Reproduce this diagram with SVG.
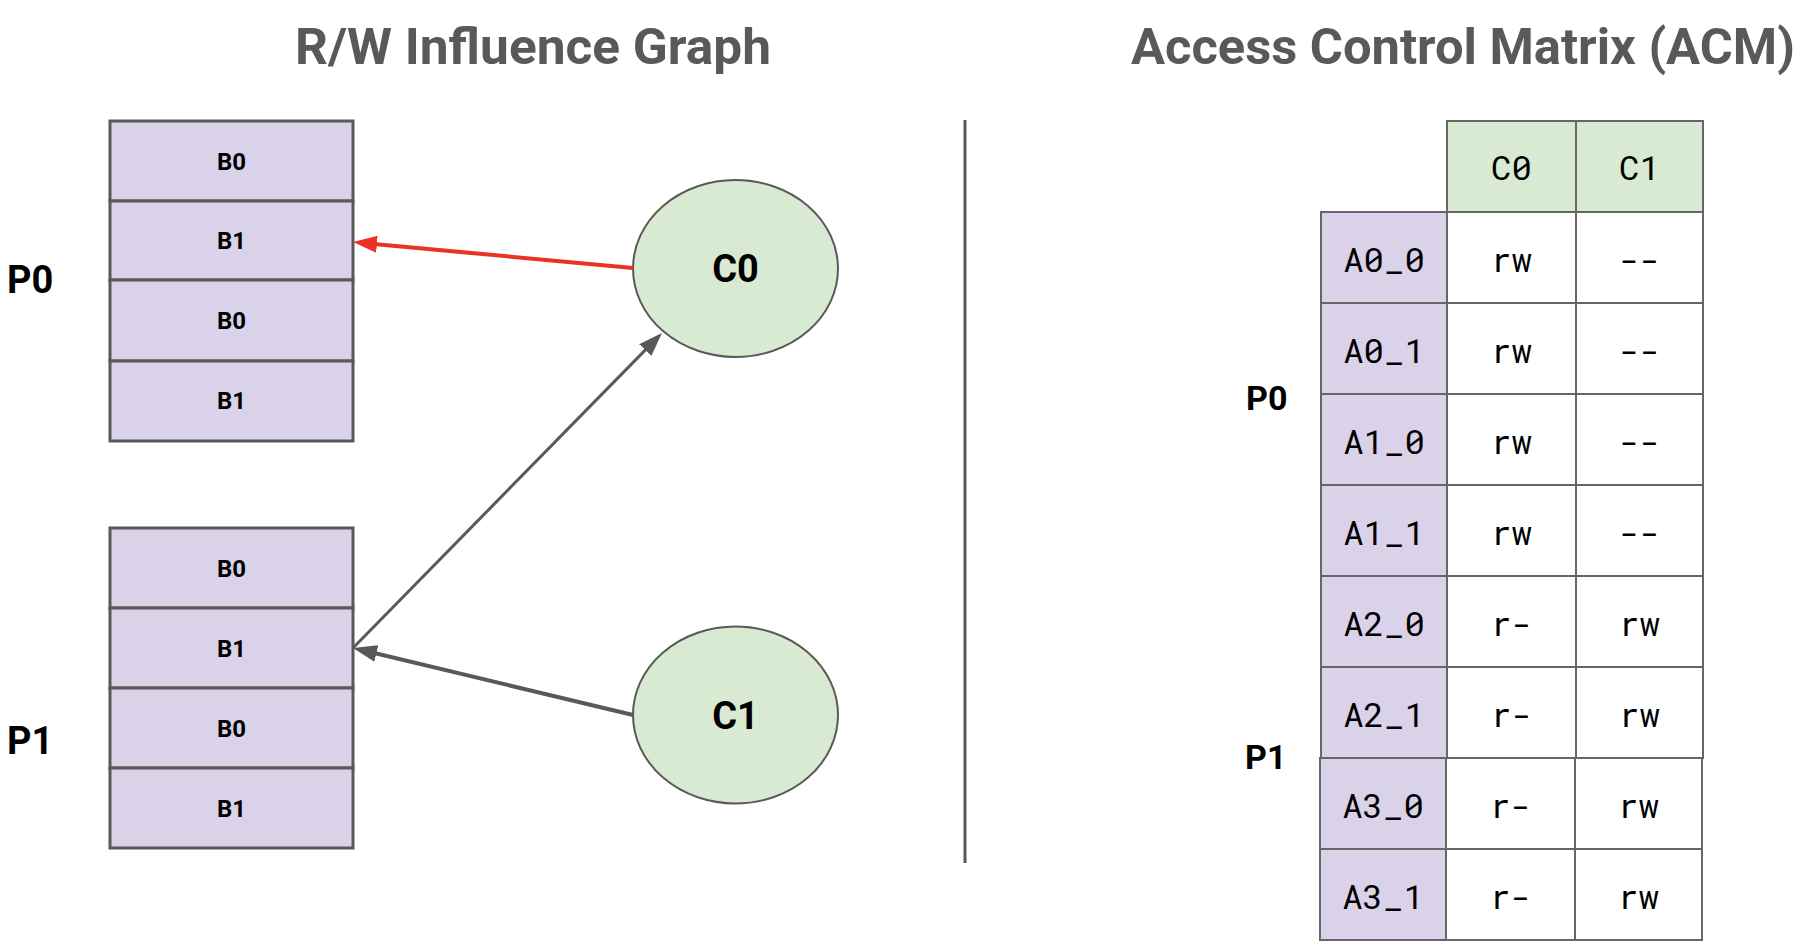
<svg xmlns="http://www.w3.org/2000/svg" width="1814" height="952" viewBox="0 0 1814 952">
<style>
.title{font-family:Roboto,"Liberation Sans",sans-serif;font-weight:bold;font-size:50px;fill:#595959;text-anchor:middle}
.lbl{font-family:Roboto,"Liberation Sans",sans-serif;font-weight:bold;fill:#000}
.blk{fill:#d9d2e9;stroke:#595959;stroke-width:3}
.btxt{font-family:Roboto,"Liberation Sans",sans-serif;font-weight:bold;font-size:24px;fill:#000;text-anchor:middle}
.cir{fill:#d9ead3;stroke:#595959;stroke-width:2}
.ctxt{font-family:Roboto,"Liberation Sans",sans-serif;font-weight:bold;font-size:38px;fill:#000;text-anchor:middle}
.cell{stroke:#666;stroke-width:2}
.hdr{fill:#d9ead3}
.acc{fill:#d9d2e9}
.wht{fill:#fff}
.mono{font-family:"Roboto Mono","DejaVu Sans Mono","Liberation Mono",monospace;font-size:34px;fill:#000;text-anchor:middle}
.grey{stroke:#595959;fill:none}
</style>
<defs>
<marker id="ahG" markerUnits="userSpaceOnUse" markerWidth="24" markerHeight="17" refX="14" refY="8.5" orient="auto">
<path d="M0,0 L24,8.5 L0,17 z" fill="#595959"/>
</marker>
<marker id="ahR" markerUnits="userSpaceOnUse" markerWidth="24" markerHeight="17" refX="14" refY="8.5" orient="auto">
<path d="M0,0 L24,8.5 L0,17 z" fill="#ea3323"/>
</marker>
</defs>
<rect width="1814" height="952" fill="#fff"/>

<text class="title" x="533" y="64" textLength="476" lengthAdjust="spacingAndGlyphs">R/W Influence Graph</text>
<text class="title" x="1463" y="64" textLength="664" lengthAdjust="spacingAndGlyphs">Access Control Matrix (ACM)</text>

<g id="divider"><line x1="965" y1="120" x2="965" y2="863" stroke="#595959" stroke-width="3"/></g>

<g id="P0-label"><text class="lbl" x="7" y="293" font-size="38">P0</text></g>
<g id="P1-label"><text class="lbl" x="7" y="754" font-size="38">P1</text></g>

<g id="P0-stack">
<rect class="blk" x="110" y="121" width="243" height="80"/><text class="btxt" x="231.5" y="169.5">B0</text>
<rect class="blk" x="110" y="201" width="243" height="79"/><text class="btxt" x="231.5" y="249">B1</text>
<rect class="blk" x="110" y="280" width="243" height="81"/><text class="btxt" x="231.5" y="329">B0</text>
<rect class="blk" x="110" y="361" width="243" height="80"/><text class="btxt" x="231.5" y="409">B1</text>
</g>
<g id="P1-stack">
<rect class="blk" x="110" y="528" width="243" height="80"/><text class="btxt" x="231.5" y="576.5">B0</text>
<rect class="blk" x="110" y="608" width="243" height="80"/><text class="btxt" x="231.5" y="656.5">B1</text>
<rect class="blk" x="110" y="688" width="243" height="80"/><text class="btxt" x="231.5" y="736.5">B0</text>
<rect class="blk" x="110" y="768" width="243" height="80"/><text class="btxt" x="231.5" y="816.5">B1</text>
</g>

<g id="C0">
<ellipse class="cir" cx="735.5" cy="268.5" rx="102.5" ry="88.5"/>
<text class="ctxt" x="735.5" y="282">C0</text>
</g>
<g id="C1">
<ellipse class="cir" cx="735.5" cy="715" rx="102.5" ry="88.5"/>
<text class="ctxt" x="735.5" y="728.5">C1</text>
</g>

<g id="connectors">
<line x1="633" y1="268" x2="363" y2="243" stroke="#ea3323" stroke-width="4" marker-end="url(#ahR)"/>
<line x1="633" y1="715" x2="362.7" y2="650.3" class="grey" stroke-width="4" marker-end="url(#ahG)"/>
<line x1="353" y1="648" x2="655" y2="340.1" class="grey" stroke-width="3" marker-end="url(#ahG)"/>
</g>

<g id="ACM-P0-label"><text class="lbl" x="1246" y="410" font-size="34">P0</text></g>
<g id="ACM-P1-label"><text class="lbl" x="1245" y="769" font-size="34">P1</text></g>

<g id="acm-header">
<rect class="cell hdr" x="1447" y="121" width="129" height="91"/><text class="mono" x="1511.5" y="180">C0</text>
<rect class="cell hdr" x="1576" y="121" width="127" height="91"/><text class="mono" x="1639.5" y="180">C1</text>
</g>
<g id="row-A0_0">
<rect class="cell acc" x="1321" y="212" width="126" height="91"/><text class="mono" x="1384" y="272">A0_0</text>
<rect class="cell wht" x="1447" y="212" width="129" height="91"/><text class="mono" x="1511.5" y="272">rw</text>
<rect class="cell wht" x="1576" y="212" width="127" height="91"/><text class="mono" x="1639.5" y="272">--</text>
</g>
<g id="row-A0_1">
<rect class="cell acc" x="1321" y="303" width="126" height="91"/><text class="mono" x="1384" y="363">A0_1</text>
<rect class="cell wht" x="1447" y="303" width="129" height="91"/><text class="mono" x="1511.5" y="363">rw</text>
<rect class="cell wht" x="1576" y="303" width="127" height="91"/><text class="mono" x="1639.5" y="363">--</text>
</g>
<g id="row-A1_0">
<rect class="cell acc" x="1321" y="394" width="126" height="91"/><text class="mono" x="1384" y="454">A1_0</text>
<rect class="cell wht" x="1447" y="394" width="129" height="91"/><text class="mono" x="1511.5" y="454">rw</text>
<rect class="cell wht" x="1576" y="394" width="127" height="91"/><text class="mono" x="1639.5" y="454">--</text>
</g>
<g id="row-A1_1">
<rect class="cell acc" x="1321" y="485" width="126" height="91"/><text class="mono" x="1384" y="545">A1_1</text>
<rect class="cell wht" x="1447" y="485" width="129" height="91"/><text class="mono" x="1511.5" y="545">rw</text>
<rect class="cell wht" x="1576" y="485" width="127" height="91"/><text class="mono" x="1639.5" y="545">--</text>
</g>
<g id="row-A2_0">
<rect class="cell acc" x="1321" y="576" width="126" height="91"/><text class="mono" x="1384" y="636">A2_0</text>
<rect class="cell wht" x="1447" y="576" width="129" height="91"/><text class="mono" x="1511.5" y="636">r-</text>
<rect class="cell wht" x="1576" y="576" width="127" height="91"/><text class="mono" x="1639.5" y="636">rw</text>
</g>
<g id="row-A2_1">
<rect class="cell acc" x="1321" y="667" width="126" height="91"/><text class="mono" x="1384" y="727">A2_1</text>
<rect class="cell wht" x="1447" y="667" width="129" height="91"/><text class="mono" x="1511.5" y="727">r-</text>
<rect class="cell wht" x="1576" y="667" width="127" height="91"/><text class="mono" x="1639.5" y="727">rw</text>
</g>
<g id="row-A3_0">
<rect class="cell acc" x="1320" y="758" width="126" height="91"/><text class="mono" x="1383" y="818">A3_0</text>
<rect class="cell wht" x="1446" y="758" width="129" height="91"/><text class="mono" x="1510.5" y="818">r-</text>
<rect class="cell wht" x="1575" y="758" width="127" height="91"/><text class="mono" x="1638.5" y="818">rw</text>
</g>
<g id="row-A3_1">
<rect class="cell acc" x="1320" y="849" width="126" height="91"/><text class="mono" x="1383" y="909">A3_1</text>
<rect class="cell wht" x="1446" y="849" width="129" height="91"/><text class="mono" x="1510.5" y="909">r-</text>
<rect class="cell wht" x="1575" y="849" width="127" height="91"/><text class="mono" x="1638.5" y="909">rw</text>
</g>
</svg>
